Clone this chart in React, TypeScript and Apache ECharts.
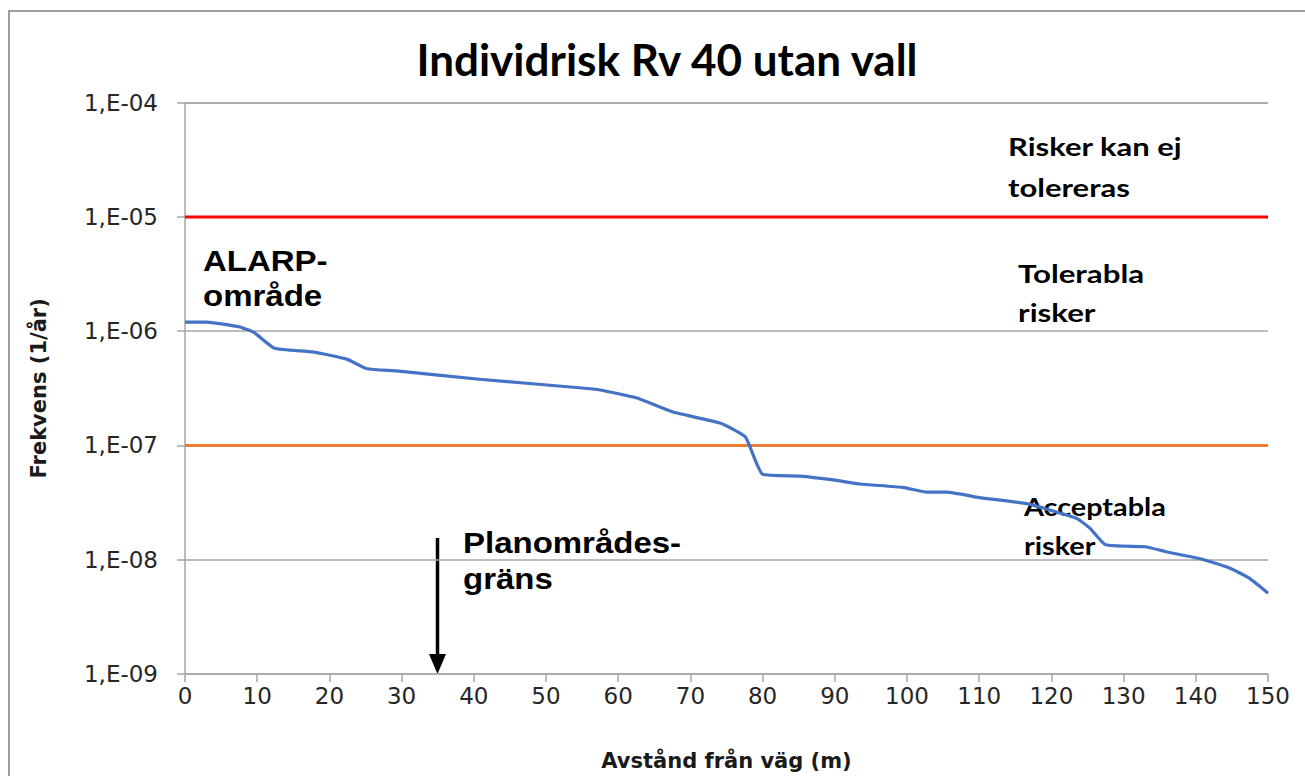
import React, { useEffect, useRef } from "react";
import * as echarts from "echarts";

const distances = [0, 3, 5, 7.6, 9.6, 12.4, 17.7, 22.4, 25.2, 29.3, 40.8, 54.6, 57.5, 62.6, 67.6, 74.1, 77.6, 80, 85.2, 89.8, 93.5, 99.4, 102.8, 105.5, 110, 116.6, 120, 123.5, 125.3, 127.5, 133, 136, 140.6, 144.6, 147.4, 150];
const frequency = [1.2e-6, 1.2e-6, 1.16e-6, 1.09e-6, 9.7e-7, 7.1e-7, 6.6e-7, 5.7e-7, 4.7e-7, 4.5e-7, 3.8e-7, 3.2e-7, 3.06e-7, 2.6e-7, 1.96e-7, 1.57e-7, 1.19e-7, 5.6e-8, 5.4e-8, 5.0e-8, 4.6e-8, 4.3e-8, 3.9e-8, 3.9e-8, 3.5e-8, 3.1e-8, 2.7e-8, 2.3e-8, 1.9e-8, 1.35e-8, 1.3e-8, 1.17e-8, 1.02e-8, 8.5e-9, 6.9e-9, 5.1e-9];
const limitIntolerable = 1e-5;
const limitAcceptable = 1e-7;
const xRange = [0, 150];

const CAL = "Lato, 'Open Sans', sans-serif";
const WIDE = "'DejaVu Sans', sans-serif";
const ARIAL = "'Liberation Sans', Arial, sans-serif";

export default function App() {
  const ref = useRef<HTMLDivElement>(null);
  useEffect(() => {
    if (!ref.current) return;
    const chart = echarts.init(ref.current, undefined, { renderer: "svg" });
    const fmtY = (v: number) => {
      const e = Math.round(Math.log10(v));
      const s = e < 0 ? "-" + String(-e).padStart(2, "0") : String(e).padStart(2, "0");
      return "1,E" + s;
    };
    chart.setOption({
      animation: false,
      backgroundColor: "#ffffff",
      title: {
        text: "Individrisk Rv 40 utan vall",
        left: 662,
        textAlign: "center",
        top: 32,
        textStyle: { fontFamily: CAL, fontWeight: "bold", fontSize: 44, color: "#000" },
      },
      grid: { left: 185, right: 37, top: 102.7, bottom: 96 },
      xAxis: {
        type: "value",
        min: xRange[0],
        max: xRange[1],
        interval: 10,
        name: "Avstånd från väg (m)",
        nameLocation: "middle",
        nameGap: 76,
        nameTextStyle: { fontFamily: WIDE, fontWeight: "bold", fontSize: 21, color: "#1a1a1a" },
        axisLine: { lineStyle: { color: "#a6a6a6", width: 1.5 } },
        axisTick: { show: true, length: 8, lineStyle: { color: "#a6a6a6", width: 1.5 } },
        axisLabel: { fontFamily: WIDE, fontSize: 23, color: "#262626", margin: 10 },
        splitLine: { show: false },
      },
      yAxis: {
        type: "log",
        logBase: 10,
        min: 1e-9,
        max: 1e-4,
        name: "Frekvens (1/år)",
        nameLocation: "middle",
        nameRotate: 90,
        nameGap: 136,
        nameTextStyle: { fontFamily: WIDE, fontWeight: "bold", fontSize: 21, color: "#1a1a1a" },
        axisLine: { show: true, lineStyle: { color: "#a6a6a6", width: 1.5 } },
        axisTick: { show: true, length: 8, lineStyle: { color: "#a6a6a6", width: 1.5 } },
        axisLabel: { fontFamily: WIDE, fontSize: 23, color: "#262626", margin: 27, formatter: fmtY },
        splitLine: { show: true, lineStyle: { color: "#a6a6a6", width: 1.5 } },
      },
      series: [
        {
          type: "line",
          data: [[xRange[0], limitIntolerable], [xRange[1], limitIntolerable]],
          symbol: "none",
          lineStyle: { color: "#ff0000", width: 3 },
        },
        {
          type: "line",
          data: [[xRange[0], limitAcceptable], [xRange[1], limitAcceptable]],
          symbol: "none",
          lineStyle: { color: "#ed7d31", width: 3 },
        },
        {
          type: "line",
          data: distances.map((d, i) => [d, frequency[i]]),
          symbol: "none",
          smooth: 0.15,
          lineStyle: { color: "#4472c4", width: 3.2 },
        },
      ],
      graphic: [
        {
          type: "rect",
          shape: { x: 9, y: 11, width: 1400, height: 800 },
          style: { fill: "none", stroke: "#7f7f7f", lineWidth: 1.5 },
          silent: true,
        },
        {
          type: "text",
          x: 1008,
          y: 126,
          scaleX: 1.24,
          style: { text: "Risker kan ej\ntolereras", font: `bold 25px ${CAL}`, fill: "#000", lineHeight: 41 },
        },
        {
          type: "text",
          x: 1018,
          y: 254,
          scaleX: 1.25,
          style: { text: "Tolerabla\nrisker", font: `bold 25px ${CAL}`, fill: "#000", lineHeight: 39 },
        },
        {
          type: "text",
          x: 1024,
          y: 487,
          scaleX: 1.2,
          style: { text: "Acceptabla\nrisker", font: `bold 24px ${CAL}`, fill: "#000", lineHeight: 39 },
        },
        {
          type: "text",
          x: 203,
          y: 243,
          scaleX: 1.1,
          style: { text: "ALARP-\nområde", font: `bold 30px ${ARIAL}`, fill: "#000", lineHeight: 35 },
        },
        {
          type: "text",
          x: 463,
          y: 525,
          scaleX: 1.1,
          style: { text: "Planområdes-\ngräns", font: `bold 30px ${ARIAL}`, fill: "#000", lineHeight: 36 },
        },
        {
          type: "line",
          shape: { x1: 437.5, y1: 538, x2: 437.5, y2: 660 },
          style: { stroke: "#000", lineWidth: 3.5 },
        },
        {
          type: "polygon",
          shape: { points: [[429, 654], [446, 654], [437.5, 674]] },
          style: { fill: "#000" },
        },
      ],
    });
    return () => chart.dispose();
  }, []);
  return (
    <div
      ref={ref}
      style={{ position: "absolute", left: 0, top: 0, width: 1305, height: 776 }}
    />
  );
}
